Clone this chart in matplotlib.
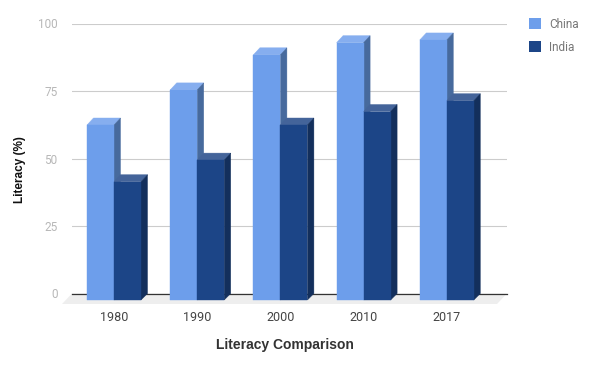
import matplotlib
matplotlib.use('Agg')
import matplotlib.pyplot as plt
from matplotlib.patches import Patch
import numpy as np

years = ['1980', '1990', '2000', '2010', '2017']
china = [65, 78, 91, 95.5, 96.5]
india = [44, 52, 65, 70, 74]
y_ticks = [0, 25, 50, 75, 100]

plt.rcParams['font.family'] = ['Roboto', 'DejaVu Sans']

W, H = 596, 369
fig = plt.figure(figsize=(W / 100, H / 100), dpi=100)
# plot area in pixels: x 72-507, y 23.5-293.5
ax = fig.add_axes([72 / W, 1 - 293.5 / H, 435 / W, 270 / H])

px_x = 1 / 83.2   # one pixel in category units
px_y = 1 / 2.7    # one pixel in value units
ax.set_xlim(-42 * px_x, 393 * px_x)
ax.set_ylim(0, 100)

dx = 6.5 * px_x
dy = 7 * px_y
bar_w = 27 * px_x


def draw_bar(x0, val, front, top, side, z):
    # front face sits lower and to the left of the back plane
    x1 = x0 + bar_w
    y_top = val - dy
    y_low = -6.5 * px_y
    ax.fill([x0, x1, x1 + dx, x0 + dx], [y_top, y_top, val, val], fc=top, ec=top, lw=0.3, zorder=z, clip_on=False)
    ax.fill([x1, x1 + dx, x1 + dx, x1], [y_low, 0, val, y_top], fc=side, ec=side, lw=0.3, zorder=z + 0.1, clip_on=False)
    ax.fill([x0, x1, x1, x0], [y_low, y_low, y_top, y_top], fc=front, ec=front, lw=0.3, zorder=z + 0.2, clip_on=False)


# floor under the bars
ax.fill([-42 * px_x, 393 * px_x, 383 * px_x, -52 * px_x], [0, 0, -10.5 * px_y, -10.5 * px_y],
        color='#eeeeee', lw=0, zorder=1, clip_on=False)

for i in range(len(years)):
    draw_bar(i - bar_w, china[i], '#6d9eeb', '#86aeef', '#476a9d', 3 + i)
    draw_bar(i, india[i], '#1c4587', '#44649a', '#132f5c', 3.5 + i)

for v in y_ticks[1:]:
    ax.axhline(v, color='#cccccc', lw=0.8, zorder=2)
ax.axhline(0, color='#333333', lw=0.9, zorder=2, clip_on=False)

for s in ax.spines.values():
    s.set_visible(False)

ax.set_yticks(y_ticks)
ax.set_yticklabels([str(v) for v in y_ticks], color='#b7b7b7', fontsize=8.5)
ax.tick_params(axis='y', length=0, pad=10.5)
ax.set_xticks(range(len(years)))
ax.set_xticklabels(years, color='#444444', fontsize=9)
ax.tick_params(axis='x', length=0, pad=12.5)

fig.text(284.5 / W, 1 - 345 / H, 'Literacy Comparison', fontsize=10, fontweight='bold',
         family='Liberation Sans', color='#333333', ha='center', va='center')
fig.text(20 / W, 1 - 170 / H, 'Literacy (%)', fontsize=8.5, fontweight='bold', family='Liberation Sans',
         color='#111111', rotation=90, ha='center', va='center')

handles = [Patch(facecolor='#6d9eeb', label='China'), Patch(facecolor='#1c4587', label='India')]
fig.legend(handles=handles, loc='upper left', bbox_to_anchor=(525 / W, 1 - 14 / H), frameon=False,
           fontsize=8.5, labelcolor='#777777', handlelength=1.05, handleheight=1.05,
           handletextpad=0.7, labelspacing=0.85, borderpad=0.3, borderaxespad=0)

fig.savefig('out.png', dpi=100)
